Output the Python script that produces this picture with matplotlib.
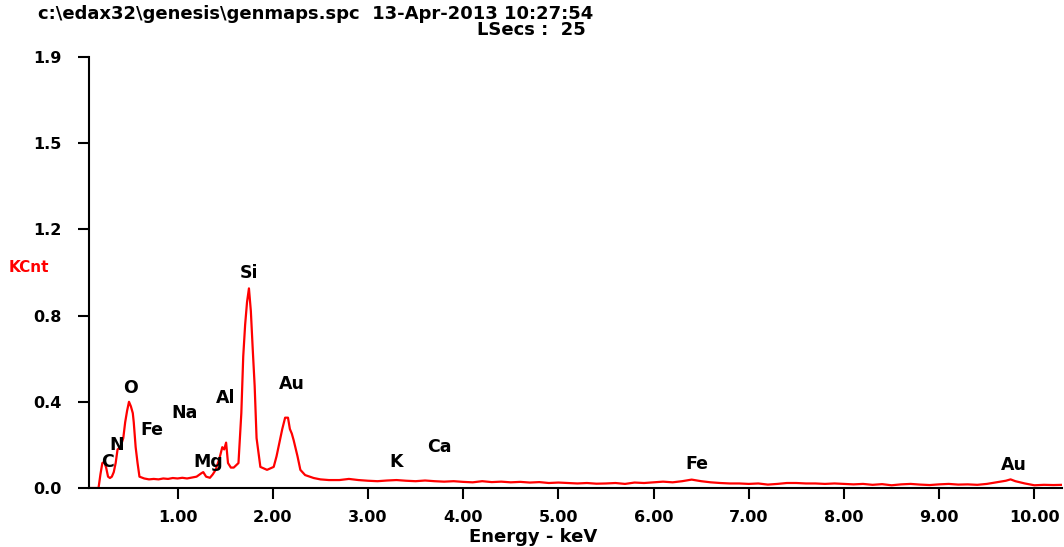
import numpy as np
import matplotlib.pyplot as plt

# spectrum (keV, KCnt)
energy = [0.07, 0.14, 0.17, 0.19, 0.21, 0.23, 0.25, 0.27, 0.29, 0.31, 0.33, 0.35,
          0.37, 0.40, 0.43, 0.45, 0.47, 0.49, 0.51, 0.53, 0.54, 0.56, 0.58, 0.60,
          0.65, 0.70, 0.75, 0.80, 0.85, 0.90, 0.95, 1.00, 1.05, 1.10, 1.15, 1.20,
          1.25, 1.27, 1.30, 1.34, 1.37, 1.40, 1.44, 1.47, 1.49, 1.51, 1.53, 1.56,
          1.59, 1.64, 1.67, 1.69, 1.71, 1.73, 1.75, 1.77, 1.79, 1.81, 1.83, 1.87,
          1.94, 2.01, 2.04, 2.07, 2.10, 2.13, 2.16, 2.18, 2.20, 2.22, 2.26, 2.29,
          2.34, 2.43, 2.50, 2.59, 2.70, 2.80, 2.90, 3.00, 3.10, 3.20, 3.30, 3.40,
          3.50, 3.60, 3.70, 3.80, 3.90, 4.00, 4.10, 4.20, 4.30, 4.40, 4.50, 4.60,
          4.70, 4.80, 4.90, 5.00, 5.10, 5.20, 5.30, 5.40, 5.50, 5.60, 5.70, 5.80,
          5.90, 6.00, 6.10, 6.20, 6.30, 6.40, 6.50, 6.60, 6.70, 6.80, 6.90, 7.00,
          7.10, 7.20, 7.30, 7.40, 7.50, 7.60, 7.70, 7.80, 7.90, 8.00, 8.10, 8.20,
          8.30, 8.40, 8.50, 8.60, 8.70, 8.80, 8.90, 9.00, 9.10, 9.20, 9.30, 9.40,
          9.50, 9.60, 9.70, 9.75, 9.80, 9.90, 10.00, 10.10, 10.20, 10.30]
kcnt = [0.0, 0.0, 0.0, 0.06, 0.11, 0.115, 0.09, 0.05, 0.044, 0.05, 0.07, 0.11,
        0.17, 0.18, 0.22, 0.29, 0.34, 0.38, 0.36, 0.33, 0.29, 0.18, 0.11, 0.05,
        0.042, 0.038, 0.04, 0.038, 0.042, 0.04, 0.044, 0.042, 0.045, 0.042, 0.046, 0.05,
        0.065, 0.07, 0.05, 0.045, 0.06, 0.08, 0.13, 0.18, 0.17, 0.20, 0.11, 0.09,
        0.09, 0.11, 0.33, 0.58, 0.72, 0.82, 0.88, 0.78, 0.61, 0.45, 0.22, 0.093,
        0.08, 0.093, 0.14, 0.20, 0.26, 0.31, 0.31, 0.26, 0.24, 0.21, 0.14, 0.08,
        0.057, 0.044, 0.038, 0.035, 0.035, 0.04, 0.035, 0.032, 0.03, 0.033, 0.035, 0.032,
        0.03, 0.033, 0.03, 0.028, 0.03, 0.027, 0.025, 0.03, 0.026, 0.028, 0.025, 0.027,
        0.024, 0.026, 0.022, 0.024, 0.022, 0.02, 0.022, 0.019, 0.02, 0.022, 0.018, 0.024,
        0.022, 0.025, 0.028, 0.025, 0.03, 0.037, 0.03, 0.025, 0.022, 0.02, 0.02, 0.018,
        0.02, 0.015, 0.018, 0.022, 0.022, 0.02, 0.02, 0.018, 0.02, 0.018, 0.016, 0.018,
        0.014, 0.017, 0.012, 0.016, 0.018, 0.015, 0.013, 0.016, 0.018, 0.015, 0.016, 0.014,
        0.018, 0.025, 0.032, 0.038, 0.03, 0.02, 0.012, 0.014, 0.013, 0.014]

# element labels: (text, keV, KCnt)
elements = ['C', 'N', 'O', 'Fe', 'Na', 'Mg', 'Al', 'Si', 'Au', 'K', 'Ca', 'Fe', 'Au']
elem_x = [0.26, 0.36, 0.51, 0.73, 1.07, 1.32, 1.51, 1.75, 2.20, 3.30, 3.75, 6.46, 9.78]
elem_y = [0.116, 0.19, 0.44, 0.255, 0.33, 0.114, 0.397, 0.95, 0.46, 0.115, 0.18, 0.106, 0.10]

yticks = [0.0, 0.38, 0.76, 1.14, 1.52, 1.9]
ytick_labels = ['0.0', '0.4', '0.8', '1.2', '1.5', '1.9']
xticks = [1, 2, 3, 4, 5, 6, 7, 8, 9, 10]

fig = plt.figure(figsize=(10.64, 5.47), dpi=100)
ax = fig.add_axes([89 / 1064, 1 - 488 / 547, 973 / 1064, 431 / 547])

ax.plot(energy, kcnt, color='red', lw=1.6)
ax.set_xlim(0.07, 10.29)
ax.set_ylim(0, 1.9)

for s in ['top', 'right']:
    ax.spines[s].set_visible(False)
for s in ['left', 'bottom']:
    ax.spines[s].set_linewidth(1.5)

ax.set_yticks(yticks)
ax.set_yticklabels(ytick_labels, fontsize=11.5, fontweight='bold')
ax.set_xticks(xticks)
ax.set_xticklabels(['%.2f' % v for v in xticks], fontsize=11.5, fontweight='bold')
ax.tick_params(axis='both', length=8, width=1.5, direction='out')
ax.tick_params(axis='y', pad=12)
ax.tick_params(axis='x', pad=8)

for t, x, y in zip(elements, elem_x, elem_y):
    ax.text(x, y, t, ha='center', va='center', fontsize=12.5, fontweight='bold')

fig.text(9 / 1064, 1 - 267 / 547, 'KCnt', color='red', fontsize=11, fontweight='bold',
         va='center', ha='left')
fig.text(533 / 1064, 1 - 537 / 547, 'Energy - keV', fontsize=13, fontweight='bold',
         ha='center', va='center')
fig.text(38 / 1064, 1 - 14 / 547, r'c:\edax32\genesis\genmaps.spc  13-Apr-2013 10:27:54',
         fontsize=13, fontweight='bold', ha='left', va='center')
fig.text(586 / 1064, 1 - 30 / 547, 'LSecs :  25', fontsize=13, fontweight='bold',
         ha='right', va='center')

fig.savefig('out.png', dpi=100)
